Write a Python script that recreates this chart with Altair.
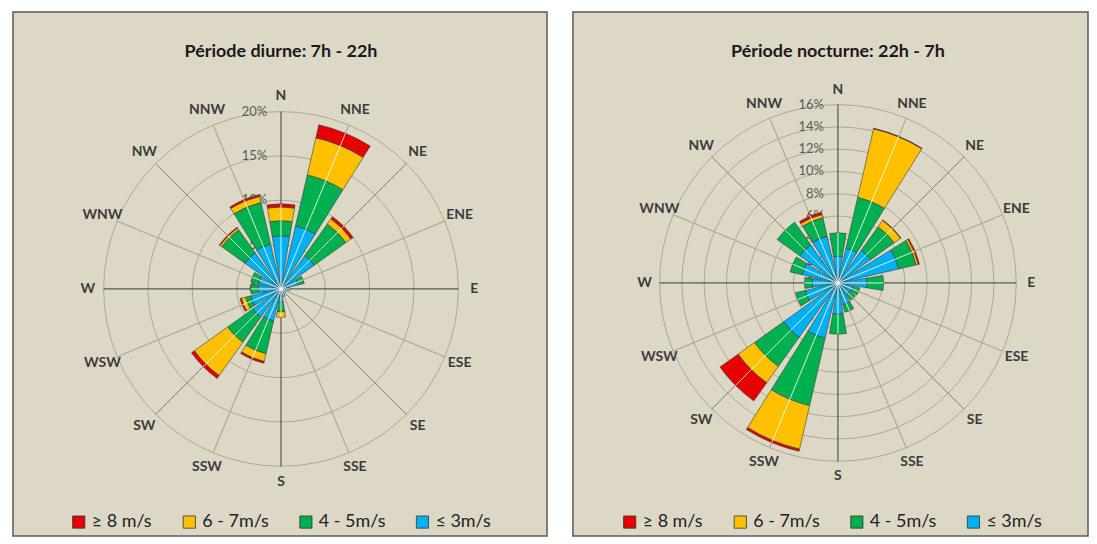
import math
import altair as alt
import pandas as pd

FONT = "Lato"

directions = ["N", "NNE", "NE", "ENE", "E", "ESE", "SE", "SSE",
              "S", "SSW", "SW", "WSW", "W", "WNW", "NW", "NNW"]
dir_angles = [i * 22.5 for i in range(16)]

# speed classes (inner -> outer)
classes = ["≤ 3m/s", "4 - 5m/s", "6 - 7m/s", "≥ 8 m/s"]
legend_order = ["≥ 8 m/s", "6 - 7m/s", "4 - 5m/s", "≤ 3m/s"]
legend_colors = ["#E60000", "#FFC000", "#00B050", "#00B0F0"]

# Période diurne (% per direction, per class)
day_le3 = [6.0, 7.3, 4.6, 2.0, 0.8, 0.6, 0.5, 0.8, 1.5, 3.7, 3.9, 3.5, 2.6, 2.6, 5.0, 5.2]
day_4_5 = [1.7, 5.9, 4.4, 0.7, 0.2, 0.0, 0.0, 0.1, 1.1, 3.8, 3.5, 0.6, 0.8, 0.9, 3.2, 4.8]
day_6_7 = [1.55, 4.3, 0.7, 0.0, 0.0, 0.0, 0.0, 0.0, 0.6, 0.9, 4.6, 0.5, 0.0, 0.0, 0.25, 0.7]
day_ge8 = [0.35, 1.5, 0.3, 0.0, 0.0, 0.0, 0.0, 0.0, 0.0, 0.2, 0.4, 0.15, 0.0, 0.0, 0.1, 0.2]

# Période nocturne
night_le3 = [2.4, 3.2, 3.6, 5.6, 2.6, 1.4, 1.3, 2.0, 2.8, 5.1, 6.0, 3.0, 2.3, 3.3, 4.2, 4.3]
night_4_5 = [2.1, 4.7, 2.6, 1.6, 1.5, 0.6, 0.6, 0.7, 1.8, 6.2, 3.2, 0.9, 0.7, 1.1, 2.5, 1.7]
night_6_7 = [0.0, 6.3, 0.7, 0.2, 0.0, 0.0, 0.0, 0.0, 0.0, 4.0, 1.8, 0.0, 0.0, 0.0, 0.0, 0.3]
night_ge8 = [0.0, 0.05, 0.05, 0.1, 0.0, 0.0, 0.0, 0.0, 0.0, 0.2, 2.0, 0.0, 0.0, 0.0, 0.0, 0.2]

day_ticks = [0, 5, 10, 15, 20]
night_ticks = [0, 2, 4, 6, 8, 10, 12, 14, 16]

HALF = 9.5  # half angular width of each wedge (degrees)


def panel(title, series, ticks, rpx, cx, cy, lx, ly, width, height):
    rmax = ticks[-1]
    tsc = alt.Scale(domain=[0, 360], range=[0, 2 * math.pi])
    rsc = alt.Scale(type="linear", domain=[0, rmax], range=[0, rpx], zero=True)

    rows, tot = [], []
    for i, d in enumerate(directions):
        cum = 0.0
        for cls, vals in zip(classes, series):
            v = vals[i]
            if v > 0:
                rows.append({"dir": d, "cls": cls, "t0": dir_angles[i] - HALF,
                             "t1": dir_angles[i] + HALF, "r0": cum, "r1": cum + v})
            cum += v
        tot.append({"t": dir_angles[i], "r": cum})
    wedges_df = pd.DataFrame(rows)
    tot_df = pd.DataFrame(tot)

    pos = dict(x=alt.value(cx), y=alt.value(cy))

    def spoke_layer(angles, color, w):
        return alt.Chart(pd.DataFrame({"t": angles, "r": rmax})).mark_arc(
            fill="transparent", stroke=color, strokeWidth=w
        ).encode(
            theta=alt.Theta("t:Q", scale=tsc, stack=False), theta2="t:Q",
            radius=alt.Radius("r:Q", scale=rsc, stack=False), **pos)

    rings = alt.Chart(pd.DataFrame({"r": ticks[1:], "t0": 0, "t1": 360})).mark_arc(
        fill="transparent", stroke="#aca796", strokeWidth=1
    ).encode(
        theta=alt.Theta("t0:Q", scale=tsc, stack=False), theta2="t1:Q",
        radius=alt.Radius("r:Q", scale=rsc, stack=False), **pos)

    minor = [a for a in dir_angles if a % 45 != 0]
    spokes = spoke_layer(minor, "#b0ab9b", 1)
    diag = spoke_layer([45, 135, 225, 315], "#8e897c", 1)
    axes = spoke_layer([0, 90, 180, 270], "#555555", 1.2)

    tick_df = pd.DataFrame({"r": ticks, "t": 0, "lab": [f"{t}%" for t in ticks]})
    tick_labels = alt.Chart(tick_df).mark_text(
        align="right", baseline="middle", dx=-14, fontSize=13, font=FONT, color="#5a5a5a"
    ).encode(
        theta=alt.Theta("t:Q", scale=tsc, stack=False),
        radius=alt.Radius("r:Q", scale=rsc, stack=False),
        text="lab:N", **pos)

    wedges = alt.Chart(wedges_df).mark_arc(stroke="#3a3a3a", strokeWidth=0.6).encode(
        theta=alt.Theta("t0:Q", scale=tsc, stack=False), theta2="t1:Q",
        radius=alt.Radius("r1:Q", scale=rsc, stack=False), radius2="r0:Q",
        color=alt.Color("cls:N", scale=alt.Scale(domain=legend_order, range=legend_colors),
                        legend=alt.Legend(orient="none", legendX=lx, legendY=ly,
                                          direction="horizontal", title=None,
                                          symbolType="square", symbolSize=150,
                                          symbolStrokeColor="#333333", symbolStrokeWidth=0.8,
                                          symbolOpacity=1,
                                          labelFontSize=18, labelFont=FONT, labelColor="#222222",
                                          labelOffset=4, columnPadding=28, padding=0)),
        **pos)

    lights = alt.Chart(tot_df[tot_df["r"] > 0]).mark_arc(
        fill="transparent", stroke="#ffffff", strokeOpacity=0.5, strokeWidth=1
    ).encode(
        theta=alt.Theta("t:Q", scale=tsc, stack=False), theta2="t:Q",
        radius=alt.Radius("r:Q", scale=rsc, stack=False), **pos)

    dir_labels = alt.Chart(pd.DataFrame({"d": directions, "t": dir_angles})).mark_text(
        fontSize=14, fontWeight="bold", font=FONT, color="#3c3c3c",
        align="center", baseline="middle"
    ).encode(
        theta=alt.Theta("t:Q", scale=tsc, stack=False),
        radius=alt.value(194), text="d:N", **pos)

    title_mark = alt.Chart(pd.DataFrame({"t": [title]})).mark_text(
        fontSize=18, fontWeight="bold", font=FONT, color="#1a1a1a",
        align="center", baseline="middle"
    ).encode(text="t:N", x=alt.value(cx), y=alt.value(40))

    return alt.layer(rings, spokes, diag, axes, tick_labels, wedges, lights, dir_labels,
                     title_mark).properties(width=width, height=height)


left = panel("Période diurne: 7h - 22h", [day_le3, day_4_5, day_6_7, day_ge8],
             day_ticks, 178, 269, 278, 57, 503, 536, 526)
right = panel("Période nocturne: 22h - 7h", [night_le3, night_4_5, night_6_7, night_ge8],
              night_ticks, 179, 266, 272, 48, 503, 517, 526)

chart = alt.hconcat(left, right, spacing=24).resolve_scale(
    theta="independent", radius="independent", color="independent"
).resolve_legend(color="independent").properties(
    padding={"left": 4, "top": 2, "right": 0, "bottom": 0}, background="#ffffff"
).configure_view(fill="#DDD8C6", stroke="#5a5a5a", strokeWidth=1.5)

chart.save("out.html", embed_options={"renderer": "svg", "actions": False})
